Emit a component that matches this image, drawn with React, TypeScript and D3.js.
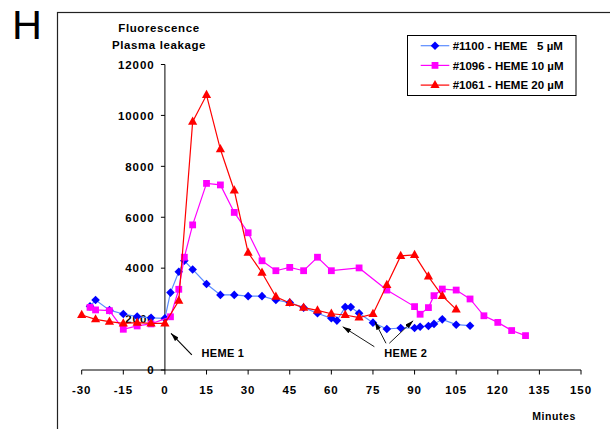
import React from 'react';
import * as d3 from 'd3';

// series: minutes + fluorescence values
const blueMinutes = [-27, -25, -20, -15, -10, -5, 0, 2, 5, 7, 10, 15, 20, 25, 30, 35, 40, 45, 50, 55, 60, 62, 65, 67, 70, 75, 80, 85, 90, 92, 95, 97, 100, 105, 110];
const blueValues = [2500, 2750, 2350, 2200, 2100, 2050, 2030, 3040, 3860, 4290, 3950, 3380, 2950, 2950, 2900, 2900, 2750, 2650, 2450, 2230, 2030, 1940, 2470, 2470, 2230, 1860, 1610, 1650, 1650, 1700, 1730, 1810, 1990, 1780, 1740];

const pinkMinutes = [-27, -25, -20, -15, -10, -5, 2, 5, 7, 10, 15, 20, 25, 30, 35, 40, 45, 50, 55, 60, 70, 80, 90, 92, 95, 97, 100, 105, 110, 115, 120, 125, 130];
const pinkValues = [2460, 2360, 2330, 1600, 1730, 1810, 2090, 3170, 4430, 5700, 7330, 7270, 6190, 5390, 4290, 3900, 4030, 3900, 4430, 3900, 4010, 3140, 2490, 2190, 2450, 2920, 3180, 3140, 2790, 2130, 1870, 1550, 1350];

const redMinutes = [-30, -25, -20, -15, -10, -5, 0, 5, 10, 15, 20, 25, 30, 35, 40, 45, 50, 55, 60, 65, 70, 75, 80, 85, 90, 95, 100, 105];
const redValues = [2160, 1990, 1900, 1830, 1860, 1830, 1830, 2720, 9750, 10800, 8670, 7050, 4610, 3820, 2880, 2630, 2450, 2340, 2210, 2160, 2060, 2200, 3340, 4480, 4520, 3670, 2910, 2380];

const legendLabels = ['#1100 - HEME   5 µM', '#1096 - HEME 10 µM', '#1061 - HEME 20 µM'];
const xTicks = [-30, -15, 0, 15, 30, 45, 60, 75, 90, 105, 120, 135, 150];
const yTicks = [0, 2000, 4000, 6000, 8000, 10000, 12000];

// annotation arrows in data units: [fromMin, fromVal, toMin, toVal]
const heme1Arrow = [9.7, 590, 2.2, 1440];
const heme2Arrows = [
  [75.5, 915, 64.1, 1700],
  [79.7, 1050, 75.7, 1900],
  [80.9, 1050, 89.5, 1936],
];

const FONT = '"Liberation Sans", Arial, sans-serif';

const diamond = 'M0,-4.3L4.3,0L0,4.3L-4.3,0Z';
const square = 'M-3.4,-3.4H3.4V3.4H-3.4Z';
const triangle = 'M0,-5.2L4.6,3L-4.6,3Z';

const series = [
  { minutes: blueMinutes, values: blueValues, line: '#5b8cff', fill: '#0000ff', shape: diamond },
  { minutes: pinkMinutes, values: pinkValues, line: '#ff00ff', fill: '#ff00ff', shape: square },
  { minutes: redMinutes, values: redValues, line: '#ff0000', fill: '#ff0000', shape: triangle },
];

export default function App() {
  const x = d3.scaleLinear().domain([-30, 150]).range([81.7, 581]);
  const y = d3.scaleLinear().domain([0, 12000]).range([370, 64.5]);
  const line = d3.line<[number, number]>().x(d => x(d[0])).y(d => y(d[1]));

  return (
    <svg width={610} height={429} style={{ position: 'absolute', left: 0, top: 0, background: '#fff' }} fontFamily={FONT}>
      <defs>
        <marker id="arr" viewBox="0 0 10 6" refX="10" refY="3" markerWidth="9" markerHeight="5" orient="auto" markerUnits="userSpaceOnUse">
          <path d="M0,0L10,3L0,6Z" fill="#000" />
        </marker>
      </defs>
      <rect x={0} y={0} width={610} height={429} fill="#fff" />
      <text x={12} y={39} fontSize={41.5} fontFamily={FONT}>H</text>
      <rect x={57.5} y={12.5} width={600} height={500} fill="none" stroke="#222" strokeWidth={1.2} />

      {/* title */}
      <text x={159} y={31.7} textAnchor="middle" fontWeight="bold" fontSize={11.5} letterSpacing={0.6}>Fluorescence</text>
      <text x={159} y={49.3} textAnchor="middle" fontWeight="bold" fontSize={11.5} letterSpacing={0.6}>Plasma leakage</text>

      {/* y axis */}
      <line x1={x(0)} x2={x(0)} y1={y(0)} y2={y(12000)} stroke="#000" />
      {yTicks.map(t => (
        <g key={t}>
          <line x1={x(0) - 4} x2={x(0)} y1={y(t)} y2={y(t)} stroke="#000" />
          <text x={154.5} y={y(t) + 4.3} textAnchor="end" fontWeight="bold" fontSize={11.5} letterSpacing={0.9}>{t}</text>
        </g>
      ))}

      {/* x axis */}
      <line x1={x(-30)} x2={x(150)} y1={y(0)} y2={y(0)} stroke="#000" />
      {xTicks.map(t => (
        <g key={t}>
          <line x1={x(t)} x2={x(t)} y1={y(0)} y2={y(0) + 4.5} stroke="#000" />
          <text x={x(t)} y={394.3} textAnchor="middle" fontWeight="bold" fontSize={11.5} letterSpacing={0.9}>{t}</text>
        </g>
      ))}
      <text x={576} y={420} textAnchor="end" fontWeight="bold" fontSize={10.5} letterSpacing={0.6}>Minutes</text>

      {/* series */}
      {series.map((s, i) => {
        const pts = s.minutes.map((m, j) => [m, s.values[j]] as [number, number]);
        return (
          <g key={i}>
            <path d={line(pts) || ''} fill="none" stroke={s.line} strokeWidth={1.2} />
            {pts.map((p, j) => (
              <path key={j} d={s.shape} transform={`translate(${x(p[0])},${y(p[1])})`} fill={s.fill} />
            ))}
          </g>
        );
      })}

      {/* annotations */}
      <line x1={x(heme1Arrow[0])} y1={y(heme1Arrow[1])} x2={x(heme1Arrow[2])} y2={y(heme1Arrow[3])} stroke="#000" strokeWidth={1.1} markerEnd="url(#arr)" />
      <text x={x(13.2)} y={y(530)} fontWeight="bold" fontSize={11} letterSpacing={0.3}>HEME 1</text>
      {heme2Arrows.map((a, i) => (
        <line key={i} x1={x(a[0])} y1={y(a[1])} x2={x(a[2])} y2={y(a[3])} stroke="#000" strokeWidth={0.9} markerEnd="url(#arr)" />
      ))}
      <text x={x(79.1)} y={y(520)} fontWeight="bold" fontSize={11} letterSpacing={0.3}>HEME 2</text>

      {/* legend */}
      <rect x={407.5} y={35.5} width={168.5} height={60} fill="#fff" stroke="#000" />
      {series.map((s, i) => {
        const ly = 45.7 + i * 19.7;
        return (
          <g key={i}>
            <line x1={420.7} x2={449.3} y1={ly} y2={ly} stroke={s.line} strokeWidth={1.2} />
            <path d={s.shape} transform={`translate(435,${ly})`} fill={s.fill} />
            <text x={452.7} y={ly + 4.2} fontWeight="bold" fontSize={11.5} style={{ whiteSpace: 'pre' }}>{legendLabels[i]}</text>
          </g>
        );
      })}
    </svg>
  );
}
